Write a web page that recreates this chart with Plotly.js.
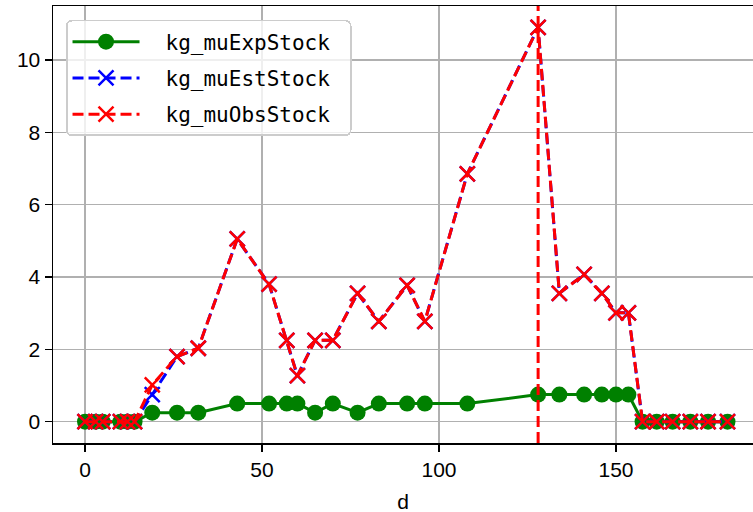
<!DOCTYPE html>
<html>
<head>
<meta charset="utf-8">
<script src="https://cdn.plot.ly/plotly-3.0.1.min.js"></script>
<style>
html,body{margin:0;padding:0;background:#fff;}
#chart{width:753px;height:512px;}
</style>
</head>
<body>
<div id="chart"></div>
<script>
// day index
const d = [0, 3, 5, 10, 12, 14, 19, 26, 32, 43, 52, 57, 60, 65, 70, 77, 83, 91, 96, 108, 128, 134, 141, 146, 150, 153.5, 157.5, 161.5, 166, 171, 176, 181.5];
const kg_muExpStock = [0, 0, 0, 0, 0, 0, 0.25, 0.25, 0.25, 0.5, 0.5, 0.5, 0.5, 0.25, 0.5, 0.25, 0.5, 0.5, 0.5, 0.5, 0.75, 0.75, 0.75, 0.75, 0.75, 0.75, 0, 0, 0, 0, 0, 0];
const kg_muEstStock = [0, 0, 0, 0, 0, 0, 0.75, 1.8, 2.03, 5.05, 3.8, 2.25, 1.27, 2.25, 2.25, 3.55, 2.77, 3.77, 2.77, 6.85, 10.9, 3.55, 4.07, 3.55, 3.01, 3.01, 0, 0, 0, 0, 0, 0];
const kg_muObsStock = [0, 0, 0, 0, 0, 0, 1.02, 1.8, 2.03, 5.05, 3.8, 2.25, 1.27, 2.25, 2.25, 3.55, 2.77, 3.77, 2.77, 6.85, 10.9, 3.55, 4.07, 3.55, 3.01, 3.01, 0, 0, 0, 0, 0, 0];
const names = ["kg_muExpStock", "kg_muEstStock", "kg_muObsStock"];

// vertical marker at the peak of the observed stock
let peakIdx = 0;
kg_muObsStock.forEach((v, i) => { if (v > kg_muObsStock[peakIdx]) peakIdx = i; });
const peakD = d[peakIdx];

const dashPat = "11px,5px";
const traces = [
  {x: d, y: kg_muExpStock, name: names[0], mode: "lines+markers", legendgroup: "a",
   line: {color: "green", width: 3},
   marker: {color: "green", size: 16, symbol: "circle", line: {width: 0}}},
  {x: d, y: kg_muEstStock, name: names[1], mode: "lines+markers", legendgroup: "b",
   line: {color: "blue", width: 3, dash: dashPat},
   marker: {color: "blue", size: 15, symbol: "x-thin", line: {color: "blue", width: 2.5}}},
  {x: d, y: kg_muObsStock, name: names[2], mode: "lines+markers", legendgroup: "c",
   line: {color: "red", width: 3, dash: dashPat},
   marker: {color: "red", size: 15, symbol: "x-thin", line: {color: "red", width: 2.5}}}
];

const layout = {
  width: 753, height: 512,
  margin: {l: 53, r: 0, t: 6, b: 69, pad: 0},
  paper_bgcolor: "#fff", plot_bgcolor: "#fff",
  font: {family: "Liberation Sans, Arial, sans-serif", size: 21, color: "#000"},
  showlegend: true,
  legend: {
    x: 0.0186, y: 0.968, xanchor: "left", yanchor: "top",
    bgcolor: "rgba(255,255,255,0.8)", bordercolor: "#cccccc", borderwidth: 1.5,
    font: {family: "DejaVu Sans Mono, monospace", size: 21, color: "#000"},
    itemwidth: 67, traceorder: "grouped", tracegroupgap: 6
  },
  xaxis: {
    range: [-9.04, 188.7], tickvals: [0, 50, 100, 150], ticktext: ["0", "50", "100", "150"],
    showgrid: true, gridcolor: "#b0b0b0", gridwidth: 1.5, zeroline: false,
    showline: true, linecolor: "#000", linewidth: 1.5, mirror: true,
    ticks: "outside", ticklen: 7, tickwidth: 1.5, tickcolor: "#000",
    tickfont: {size: 21},
    title: {text: "d", font: {size: 21}, standoff: 23}
  },
  yaxis: {
    range: [-0.589, 11.49], tickvals: [0, 2, 4, 6, 8, 10],
    showgrid: true, gridcolor: "#b0b0b0", gridwidth: 1.5, zeroline: false,
    showline: true, linecolor: "#000", linewidth: 1.5, mirror: false,
    ticks: "outside", ticklen: 7, tickwidth: 1.5, tickcolor: "#000",
    tickfont: {size: 21}
  },
  shapes: [{
    type: "line", xref: "x", yref: "paper", x0: peakD, x1: peakD, y0: 0, y1: 1,
    line: {color: "red", width: 3, dash: dashPat}, layer: "above"
  }]
};

Plotly.newPlot("chart", traces, layout, {displayModeBar: false, staticPlot: true}).then(gd => {
  // legend: wider gap between handle and label, box width and rounded corners
  const shift = 21, boxW = 284;
  gd.querySelectorAll(".legend .legendtext").forEach(t => {
    t.setAttribute("x", (+t.getAttribute("x") || 0) + shift);
    t.querySelectorAll("tspan[x]").forEach(s => s.setAttribute("x", (+s.getAttribute("x") || 0) + shift));
  });
  gd.querySelectorAll(".legend rect.bg").forEach(r => { r.setAttribute("width", boxW); r.setAttribute("rx", 5); r.setAttribute("ry", 5); });
  gd.querySelectorAll("clipPath[id^='legend'] rect").forEach(r => r.setAttribute("width", boxW));
  // nudge the x-axis title slightly lower, as in the reference
  gd.querySelectorAll("text.xtitle").forEach(t => t.setAttribute("y", (+t.getAttribute("y") || 0) + 1.5));
});
</script>
</body>
</html>
